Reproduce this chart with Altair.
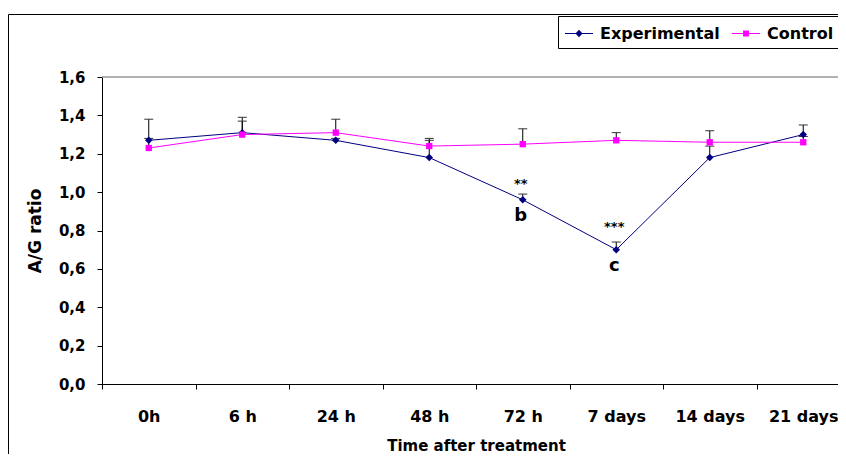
import altair as alt
import pandas as pd

times = ["0h", "6 h", "24 h", "48 h", "72 h", "7 days", "14 days", "21 days"]
exp_mean = [1.27, 1.31, 1.27, 1.18, 0.96, 0.70, 1.18, 1.30]
exp_sd = [0.11, 0.08, 0.01, 0.09, 0.03, 0.04, 0.06, 0.05]
ctrl_mean = [1.23, 1.30, 1.31, 1.24, 1.25, 1.27, 1.26, 1.26]
ctrl_sd = [0.05, 0.07, 0.07, 0.04, 0.08, 0.04, 0.06, 0.03]
series_names = ["Experimental", "Control"]
series_colors = ["#000080", "#FF00FF"]

star_labels = ["**", "***"]
star_times = ["72 h", "7 days"]
star_y = [1.02, 0.80]
letter_labels = ["b", "c"]
letter_times = ["72 h", "7 days"]
letter_y = [0.85, 0.59]

FONT = "DejaVu Sans"

rows = []
for name, means, sds in [(series_names[0], exp_mean, exp_sd), (series_names[1], ctrl_mean, ctrl_sd)]:
    for t, m, s in zip(times, means, sds):
        rows.append({"time": t, "series": name, "value": m, "top": round(m + s, 3)})
df = pd.DataFrame(rows)
df_exp = df[df.series == series_names[0]]
df_ctrl = df[df.series == series_names[1]]

x_enc = alt.X(
    "time:N",
    sort=times,
    scale=alt.Scale(type="band", domain=times, range=[0, 748], paddingInner=0, paddingOuter=0),
    axis=alt.Axis(
        title="Time after treatment",
        labelAngle=0,
        tickBand="extent",
        tickSize=5,
        labelPadding=19,
        labelFontSize=16,
        titleFontSize=15,
        titlePadding=14,
    ),
)


def y_enc(field):
    return alt.Y(
        f"{field}:Q",
        scale=alt.Scale(domain=[0, 1.6], nice=False, zero=True),
        axis=alt.Axis(
            title="A/G ratio",
            values=[0, 0.2, 0.4, 0.6, 0.8, 1.0, 1.2, 1.4, 1.6],
            labelExpr="replace(format(datum.value, '.1f'), '.', ',')",
            tickSize=5,
            labelPadding=12,
            labelFontSize=15,
            titleFontSize=17,
            titlePadding=14,
        ),
    )


frame_left = alt.Chart(alt.Data(values=[{}])).mark_rule(
    color="black", strokeWidth=1
).encode(x=alt.value(-93.5), y=alt.value(-62.5), y2=alt.value(380))
frame_top = alt.Chart(alt.Data(values=[{}])).mark_rule(
    color="black", strokeWidth=1
).encode(x=alt.value(-93.5), x2=alt.value(740), y=alt.value(-62.5))
top_line = alt.Chart(alt.Data(values=[{}])).mark_rule(
    color="#999999", strokeWidth=1.5
).encode(x=alt.value(0), x2=alt.value(740), y=alt.value(0))

exp_line = alt.Chart(df_exp).mark_line(color=series_colors[0], strokeWidth=1).encode(
    x=x_enc, y=y_enc("value")
)
ctrl_line = alt.Chart(df_ctrl).mark_line(color=series_colors[1], strokeWidth=1).encode(
    x=x_enc, y=y_enc("value")
)

err_rule = alt.Chart(df).mark_rule(color="black", strokeWidth=1).encode(
    x=x_enc, y=y_enc("value"), y2="top:Q"
)
err_cap = alt.Chart(df).mark_tick(color="#333333", size=9, thickness=1, opacity=1).encode(
    x=x_enc, y=y_enc("top")
)

exp_pts = alt.Chart(df_exp).mark_point(
    shape="diamond", filled=True, size=56, color=series_colors[0], opacity=1
).encode(x=x_enc, y=y_enc("value"))
ctrl_pts = alt.Chart(df_ctrl).mark_point(
    shape="square", filled=True, size=40, color=series_colors[1], opacity=1
).encode(x=x_enc, y=y_enc("value"))

stars = alt.Chart(
    pd.DataFrame({"time": star_times, "value": star_y, "label": star_labels})
).mark_text(
    font=FONT, fontSize=13, fontWeight="bold", baseline="alphabetic", align="center",
    color="black", dx=-2
).encode(x=x_enc, y=y_enc("value"), text="label:N")

letters = alt.Chart(
    pd.DataFrame({"time": letter_times, "value": letter_y, "label": letter_labels})
).mark_text(
    font=FONT, fontSize=18, fontWeight="bold", baseline="alphabetic", align="center",
    color="black", dx=-2
).encode(x=x_enc, y=y_enc("value"), text="label:N")

exp_sym = "M-0.955,-0.05H1.59V0.05H-0.955Z M0.32,-0.35L0.64,0L0.32,0.35L0,0Z"
ctrl_sym = "M-0.955,-0.05H1.59V0.05H-0.955Z M0.05,-0.27H0.59V0.27H0.05Z"

leg = alt.Legend(
    title=None,
    orient="none",
    legendX=456,
    legendY=-61,
    direction="horizontal",
    strokeColor="black",
    fillColor="white",
    padding=6.5,
    symbolSize=484,
    symbolStrokeWidth=0,
    symbolOpacity=1,
    labelFont=FONT,
    labelFontSize=16,
    labelFontWeight="bold",
    labelColor="black",
    labelOffset=13.5,
    columnPadding=11,
)

legend_layer = alt.Chart(df).transform_filter("datum.value < 0").mark_point(
    filled=True, opacity=1, size=484
).encode(
    shape=alt.Shape("series:N", scale=alt.Scale(domain=series_names, range=[exp_sym, ctrl_sym]), legend=leg),
    color=alt.Color("series:N", scale=alt.Scale(domain=series_names, range=series_colors), legend=leg),
)

chart = alt.layer(
    frame_left, frame_top, top_line, exp_line, err_rule, err_cap, exp_pts, ctrl_line, ctrl_pts,
    stars, letters, legend_layer
).properties(
    width=736,
    height=307,
    padding={"left": 94, "top": 69, "right": 0, "bottom": 70},
    autosize=alt.AutoSizeParams(type="none"),
    background="white",
).configure_view(
    stroke=None
).configure_axis(
    labelFont=FONT,
    labelFontWeight="bold",
    labelColor="black",
    titleFont=FONT,
    titleFontWeight="bold",
    titleColor="black",
    domainColor="black",
    tickColor="black",
    grid=False,
)

chart.save("out.html", embed_options={"renderer": "svg", "actions": False})
